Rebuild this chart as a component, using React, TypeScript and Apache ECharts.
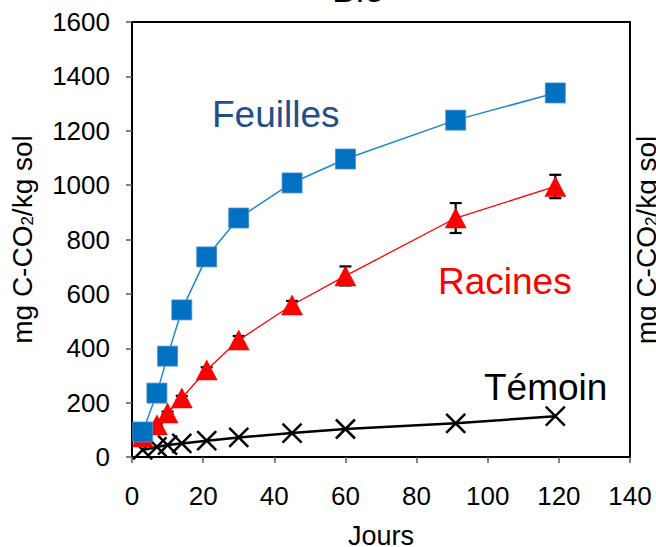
import React, { useEffect, useRef } from "react";
import * as echarts from "echarts";

const days = [3, 7, 10, 14, 21, 30, 45, 60, 91, 119];
const feuilles = [92, 235, 371, 541, 736, 879, 1008, 1096, 1239, 1339];
const racines = [74, 118, 162, 217, 320, 430, 559, 666, 879, 995];
const racinesErr = [5, 5, 5, 8, 10, 15, 15, 35, 55, 43];
const temoin = [26, 37, 44, 50, 60, 72, 88, 103, 124, 150];

const xTicks = { min: 0, max: 140, interval: 20 };
const yTicks = { min: 0, max: 1600, interval: 200 };

const FONT = "Liberation Sans, Arial, sans-serif";

export default function App() {
  const ref = useRef<HTMLDivElement>(null);
  useEffect(() => {
    const chart = echarts.init(ref.current!, null, { renderer: "svg" });
    const pair = (ys: number[]) => days.map((d, i) => [d, ys[i]]);
    const errData = days.map((d, i) => [d, racines[i] - racinesErr[i], racines[i] + racinesErr[i]]);
    const nameRich = {
      a: { fontSize: 28, color: "#000", fill: "#000", fontFamily: FONT, lineHeight: 34, verticalAlign: "bottom" },
      s: { fontSize: 17, color: "#000", fill: "#000", fontFamily: FONT, lineHeight: 26, verticalAlign: "bottom" },
    };
    chart.setOption({
      animation: false,
      backgroundColor: "#fff",
      textStyle: { fontFamily: FONT },
      grid: {
        left: 132,
        top: 22,
        width: 498,
        height: 435,
        show: true,
        borderColor: "#000",
        borderWidth: 2,
        backgroundColor: "transparent",
        containLabel: false,
        outerBoundsMode: "none",
      },
      xAxis: {
        type: "value",
        min: xTicks.min,
        max: xTicks.max,
        interval: xTicks.interval,
        name: "Jours",
        nameLocation: "middle",
        nameGap: 65,
        nameTextStyle: { fontSize: 27, color: "#000", fontFamily: FONT },
        axisLine: { show: true, lineStyle: { color: "#000", width: 2 } },
        axisTick: { show: true, inside: false, length: 6, lineStyle: { color: "#595959", width: 1.5 } },
        axisLabel: { fontSize: 26, color: "#000", margin: 26, fontFamily: FONT },
        splitLine: { show: false },
      },
      yAxis: {
        type: "value",
        min: yTicks.min,
        max: yTicks.max,
        interval: yTicks.interval,
        name: "{a|mg C-CO}{s|2}{a|/kg sol}",
        nameLocation: "middle",
        nameGap: 96,
        nameRotate: 90,
        nameTextStyle: { rich: nameRich },
        axisLine: { show: true, lineStyle: { color: "#000", width: 2 } },
        axisTick: { show: true, inside: false, length: 6, lineStyle: { color: "#595959", width: 1.5 } },
        axisLabel: {
          fontSize: 26,
          color: "#000",
          margin: 22,
          fontFamily: FONT,
          formatter: (v: number) => String(v),
        },
        splitLine: { show: false },
      },
      graphic: [
        {
          type: "text",
          x: 358,
          y: 7,
          style: {
            text: "Blé",
            fontSize: 36,
            fill: "#000",
            fontFamily: FONT,
            align: "center",
            verticalAlign: "bottom",
          },
        },
        {
          type: "text",
          x: 212,
          y: 114,
          style: { text: "Feuilles", fontSize: 37, fill: "#1F4E8C", fontFamily: FONT, verticalAlign: "middle" },
        },
        {
          type: "text",
          x: 438,
          y: 281,
          style: { text: "Racines", fontSize: 37, fill: "#FF0000", fontFamily: FONT, verticalAlign: "middle" },
        },
        {
          type: "text",
          x: 484,
          y: 387,
          style: { text: "Témoin", fontSize: 37, fill: "#000", fontFamily: FONT, verticalAlign: "middle" },
        },
        {
          type: "text",
          x: 660,
          y: 240,
          rotation: Math.PI / 2,
          style: {
            text: "{a|mg C-CO}{s|2}{a|/kg sol}",
            align: "center",
            verticalAlign: "bottom",
            rich: nameRich,
          },
        },
      ],
      series: [
        {
          name: "Témoin",
          type: "line",
          data: pair(temoin),
          symbol: "path://M0,0L10,10M10,0L0,10",
          symbolSize: 19,
          itemStyle: { color: "#000", borderColor: "#000", borderWidth: 2.5 },
          lineStyle: { color: "#000", width: 2.5 },
          z: 2,
        },
        {
          name: "Racines",
          type: "line",
          data: pair(racines),
          symbol: "triangle",
          symbolSize: [21, 20],
          itemStyle: { color: "#FF0000", borderColor: "#E00000", borderWidth: 0.5 },
          lineStyle: { color: "#FF0000", width: 1.3 },
          z: 3,
        },
        {
          name: "RacinesErr",
          type: "custom",
          data: errData,
          z: 2,
          renderItem: (params: any, api: any) => {
            const x = api.value(0);
            const lo = api.coord([x, api.value(1)]);
            const hi = api.coord([x, api.value(2)]);
            const hw = 6;
            const st = { stroke: "#000", lineWidth: 2.2 };
            return {
              type: "group",
              children: [
                { type: "line", shape: { x1: lo[0], y1: lo[1], x2: hi[0], y2: hi[1] }, style: st },
                { type: "line", shape: { x1: lo[0] - hw, y1: lo[1], x2: lo[0] + hw, y2: lo[1] }, style: st },
                { type: "line", shape: { x1: hi[0] - hw, y1: hi[1], x2: hi[0] + hw, y2: hi[1] }, style: st },
              ],
            };
          },
        },
        {
          name: "Feuilles",
          type: "line",
          data: pair(feuilles),
          symbol: "rect",
          symbolSize: 20,
          itemStyle: { color: "#0070C0", borderColor: "#4A90D0", borderWidth: 0.8 },
          lineStyle: { color: "#1F86D0", width: 1.5 },
          z: 4,
        },
      ],
    });
    return () => chart.dispose();
  }, []);
  return (
    <div
      ref={ref}
      style={{ position: "fixed", left: 0, top: 0, width: 656, height: 547, background: "#fff" }}
    />
  );
}
